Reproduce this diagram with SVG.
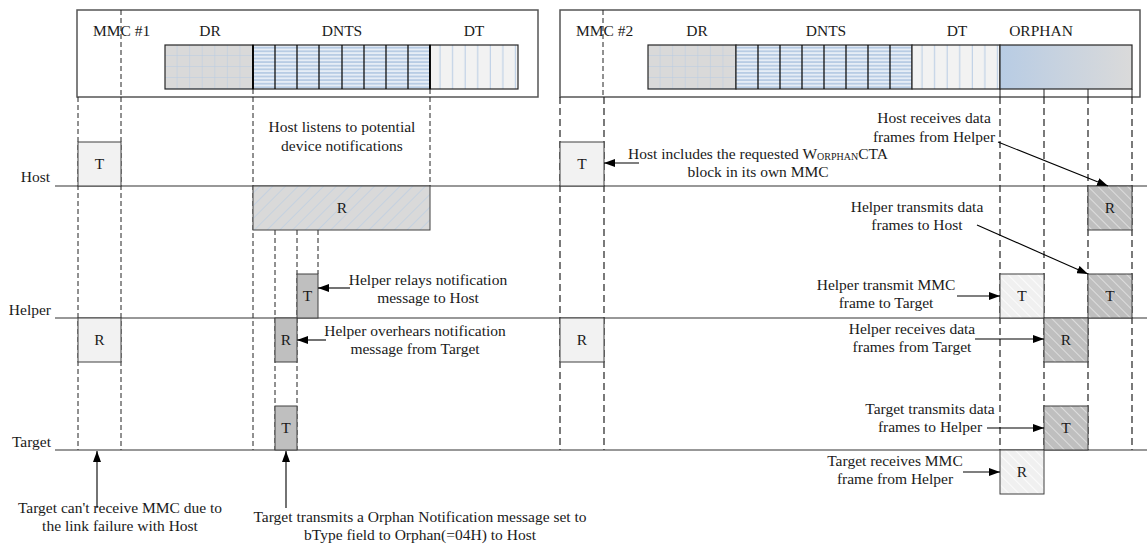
<svg xmlns="http://www.w3.org/2000/svg" width="1147" height="547" viewBox="0 0 1147 547">
<style>
text{font-family:"Liberation Serif","Times New Roman",serif;font-size:15.5px;fill:#1a1a1a}
.c{text-anchor:middle}
.e{text-anchor:end}
.frame{fill:#fff;stroke:#555;stroke-width:1.5}
.blk{stroke:#262626;stroke-width:1.2}
.slot{stroke:#000;stroke-width:1.2;fill:none}
.dash{stroke:#222;stroke-width:1;stroke-dasharray:5 3;fill:none}
.dash2{stroke:#222;stroke-width:1.2;stroke-dasharray:7 4;fill:none}
.tick{stroke:#222;stroke-width:1;fill:none}
.tl{stroke:#333;stroke-width:1.2;fill:none}
.box{stroke:#404040;stroke-width:1}
.lt{fill:#f2f2f2}
.dk{fill:#bfbfbf}
.arr{stroke:#000;stroke-width:1.1;fill:none;marker-end:url(#ah)}
</style>
<defs>
<marker id="ah" markerUnits="userSpaceOnUse" markerWidth="12" markerHeight="8" refX="11" refY="4" orient="auto">
<path d="M0,0 L11,4 L0,8 z" fill="#000"/>
</marker>
<pattern id="grid" patternUnits="objectBoundingBox" width="0.142857" height="0.25">
<rect width="12.57" height="11" fill="#d9d9d9"/>
<path d="M12.57,0 V11 M0,11 H12.57" stroke="#b8cce4" stroke-width="1"/>
</pattern>
<pattern id="stripe" patternUnits="userSpaceOnUse" width="10" height="3.6">
<rect width="10" height="3.6" fill="#e6edf6"/>
<rect y="0" width="10" height="1.8" fill="#b8cce4"/>
</pattern>
<pattern id="vlines" patternUnits="objectBoundingBox" width="0.142857" height="1">
<rect width="12.57" height="44" fill="#f2f2f2"/>
<path d="M10,0 V44" stroke="#b8cce4" stroke-width="1"/>
</pattern>
<linearGradient id="orph" x1="0" y1="0" x2="1" y2="0">
<stop offset="0" stop-color="#b8cce4"/>
<stop offset="1" stop-color="#dadada"/>
</linearGradient>
<pattern id="hatchB" patternUnits="userSpaceOnUse" width="9" height="9" patternTransform="rotate(45)">
<rect width="9" height="9" fill="#d9d9d9"/>
<path d="M0,0 V9" stroke="#b8cce4" stroke-width="1.2"/>
</pattern>
<pattern id="hatchD" patternUnits="userSpaceOnUse" width="7" height="7" patternTransform="rotate(-45)">
<rect width="7" height="7" fill="#bfbfbf"/>
<path d="M0,0 V7" stroke="#e8e8e8" stroke-width="1.5"/>
</pattern>
<pattern id="hatchL" patternUnits="userSpaceOnUse" width="7" height="7" patternTransform="rotate(-45)">
<rect width="7" height="7" fill="#f0f0f0"/>
<path d="M0,0 V7" stroke="#ffffff" stroke-width="1.5"/>
</pattern>
</defs>

<g id="superframe1">
<rect class="frame" x="77" y="10" width="461" height="87"/>
<line class="dash" x1="121" y1="10" x2="121" y2="97"/>
<text x="93" y="36">MMC #1</text>
<text class="c" x="210" y="36">DR</text>
<text class="c" x="342" y="36">DNTS</text>
<text class="c" x="474" y="36">DT</text>
<rect class="blk" x="165" y="45" width="88" height="44" fill="url(#grid)"/>
<rect class="blk" x="253" y="45" width="177" height="44" fill="url(#stripe)"/>
<path class="slot" d="M275,45V89M297,45V89M319,45V89M342,45V89M364,45V89M386,45V89M408,45V89"/>
<rect class="blk" x="430" y="45" width="88" height="44" fill="url(#vlines)"/>
<line x1="253" y1="45" x2="253" y2="89" stroke="#000" stroke-width="1.8"/>
<line x1="430" y1="45" x2="430" y2="89" stroke="#000" stroke-width="1.8"/>
<line class="dash" x1="253" y1="89" x2="253" y2="97"/>
<line class="dash" x1="430" y1="89" x2="430" y2="97"/>
</g>

<g id="superframe2">
<rect class="frame" x="560" y="10" width="580" height="87"/>
<line class="dash" x1="603" y1="10" x2="603" y2="97"/>
<text x="576" y="36">MMC #2</text>
<text class="c" x="697" y="36">DR</text>
<text class="c" x="826" y="36">DNTS</text>
<text class="c" x="957" y="36">DT</text>
<text class="c" x="1041" y="36">ORPHAN</text>
<rect class="blk" x="648" y="45" width="88" height="44" fill="url(#grid)"/>
<rect class="blk" x="736" y="45" width="176" height="44" fill="url(#stripe)"/>
<path class="slot" d="M758,45V89M780,45V89M802,45V89M824,45V89M846,45V89M868,45V89M890,45V89"/>
<rect class="blk" x="912" y="45" width="88" height="44" fill="url(#vlines)"/>
<rect class="blk" x="1000" y="45" width="132" height="44" fill="url(#orph)"/>
<path class="tick" d="M1000,89V97M1044,89V97M1088,89V97M1132,89V97"/>
</g>

<g id="guides">
<path class="dash" d="M78,97V450M121,97V450M253,97V450M430,97V186M275,230V450M297,230V450M318,230V274"/>
<path class="dash2" d="M560,97V450M604,97V450M1000,97V450M1044,97V450M1088,97V450M1132,97V450"/>
</g>

<g id="timelines">
<text class="e" x="50" y="182">Host</text>
<text class="e" x="51" y="315">Helper</text>
<text class="e" x="51" y="447">Target</text>
<line class="tl" x1="55" y1="186" x2="1147" y2="186"/>
<line class="tl" x1="55" y1="318" x2="1147" y2="318"/>
<line class="tl" x1="55" y1="450" x2="1147" y2="450"/>
</g>

<g id="host-T-mmc1"><rect class="box lt" x="78" y="142" width="43" height="44"/><text class="c" x="99.5" y="169">T</text></g>
<g id="helper-R-mmc1"><rect class="box lt" x="78" y="318" width="43" height="44"/><text class="c" x="99.5" y="345">R</text></g>
<g id="host-R-dnts"><rect class="box" x="253" y="186" width="177" height="44" fill="url(#hatchB)"/><text class="c" x="342" y="213">R</text></g>
<g id="helper-T-relay"><rect class="box dk" x="297" y="274" width="21" height="44"/><text class="c" x="307.5" y="301">T</text></g>
<g id="helper-R-overhear"><rect class="box dk" x="275" y="318" width="22" height="44"/><text class="c" x="286" y="345">R</text></g>
<g id="target-T-notif"><rect class="box dk" x="275" y="406" width="22" height="44"/><text class="c" x="286" y="433">T</text></g>
<g id="host-T-mmc2"><rect class="box lt" x="560" y="142" width="44" height="44"/><text class="c" x="582" y="169">T</text></g>
<g id="helper-R-mmc2"><rect class="box lt" x="560" y="318" width="44" height="44"/><text class="c" x="582" y="345">R</text></g>
<g id="host-R-data"><rect class="box" x="1088" y="186" width="44" height="44" fill="url(#hatchD)"/><text class="c" x="1110" y="213">R</text></g>
<g id="helper-T-mmc"><rect class="box" x="1000" y="274" width="44" height="44" fill="url(#hatchL)"/><text class="c" x="1022" y="301">T</text></g>
<g id="helper-T-data"><rect class="box" x="1088" y="274" width="44" height="44" fill="url(#hatchD)"/><text class="c" x="1110" y="301">T</text></g>
<g id="helper-R-data"><rect class="box" x="1044" y="318" width="44" height="44" fill="url(#hatchD)"/><text class="c" x="1066" y="345">R</text></g>
<g id="target-T-data"><rect class="box" x="1044" y="406" width="44" height="44" fill="url(#hatchD)"/><text class="c" x="1066" y="433">T</text></g>
<g id="target-R-mmc"><rect class="box" x="1000" y="450" width="44" height="44" fill="url(#hatchL)"/><text class="c" x="1022" y="477">R</text></g>

<g id="labels">
<text class="c" x="342" y="132">Host listens to potential</text>
<text class="c" x="342" y="151">device notifications</text>
<text class="c" x="428" y="285">Helper relays notification</text>
<text class="c" x="428" y="303">message to Host</text>
<text class="c" x="415" y="336">Helper overhears notification</text>
<text class="c" x="415" y="354">message from Target</text>
<text class="c" x="120" y="513">Target can't receive MMC due to</text>
<text class="c" x="120" y="531">the link failure with Host</text>
<text class="c" x="420" y="522">Target transmits a Orphan Notification message set to</text>
<text class="c" x="420" y="540">bType field to Orphan(=04H) to Host</text>
<text class="c" x="758" y="159">Host includes the requested W<tspan font-size="10" dy="1">ORPHAN</tspan><tspan dy="-1">CTA</tspan></text>
<text class="c" x="758" y="177">block in its own MMC</text>
<text class="c" x="934" y="123">Host receives data</text>
<text class="c" x="934" y="142">frames from Helper</text>
<text class="c" x="917" y="212">Helper transmits data</text>
<text class="c" x="917" y="230">frames to Host</text>
<text class="c" x="886" y="290">Helper transmit MMC</text>
<text class="c" x="886" y="308">frame to Target</text>
<text class="c" x="912" y="334">Helper receives data</text>
<text class="c" x="912" y="352">frames from Target</text>
<text class="c" x="930" y="414">Target transmits data</text>
<text class="c" x="930" y="432">frames to Helper</text>
<text class="c" x="895" y="466">Target receives MMC</text>
<text class="c" x="895" y="484">frame from Helper</text>
</g>

<g id="connectors">
<line class="arr" x1="998" y1="142" x2="1108" y2="186"/>
<line class="arr" x1="977" y1="225" x2="1088" y2="274"/>
<line class="arr" x1="957" y1="296" x2="1000" y2="296"/>
<line class="arr" x1="975" y1="339" x2="1044" y2="339"/>
<line class="arr" x1="987" y1="428" x2="1044" y2="428"/>
<line class="arr" x1="963" y1="472" x2="1000" y2="472"/>
<line class="arr" x1="639" y1="163" x2="604" y2="163"/>
<line class="arr" x1="350" y1="288" x2="318" y2="288"/>
<line class="arr" x1="326" y1="340" x2="297" y2="340"/>
<line class="arr" x1="97" y1="508" x2="97" y2="451"/>
<line class="arr" x1="286" y1="508" x2="286" y2="451"/>
</g>
</svg>
